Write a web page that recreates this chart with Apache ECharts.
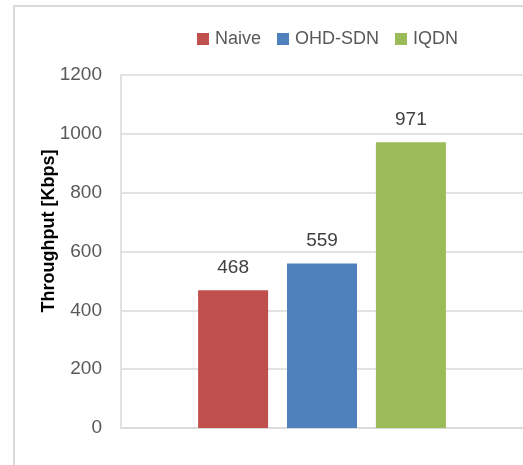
<!DOCTYPE html>
<html>
<head>
<meta charset="utf-8">
<script src="https://cdn.jsdelivr.net/npm/echarts@6/dist/echarts.min.js"></script>
<style>
  html, body { margin: 0; padding: 0; background: #fff; }
  #chart { width: 523px; height: 465px; }
</style>
</head>
<body>
<div id="chart"></div>
<script>
// Throughput of each scheme (Kbps)
var categories = [''];
var seriesNames = ['Naive', 'OHD-SDN', 'IQDN'];
var naive = [468];
var ohdSdn = [559];
var iqdn = [971];
var seriesColors = ['#C0504D', '#4F81BD', '#9BBB59'];
var yTicks = [0, 200, 400, 600, 800, 1000, 1200];

var values = [naive, ohdSdn, iqdn];
var font = '"Liberation Sans", Arial, sans-serif';

var chart = echarts.init(document.getElementById('chart'), null, { renderer: 'canvas' });

var series = seriesNames.map(function (name, i) {
  return {
    name: name,
    type: 'bar',
    data: values[i],
    barWidth: 70,
    barGap: '27%',
    itemStyle: { color: seriesColors[i] },
    label: {
      show: true,
      position: 'top',
      distance: 13,
      color: '#404040',
      fontFamily: font,
      fontSize: 19
    }
  };
});

chart.setOption({
  animation: false,
  backgroundColor: '#fff',
  graphic: [
    {
      type: 'rect',
      shape: { x: 14, y: 6, width: 700, height: 700 },
      style: { fill: 'none', stroke: '#D9D9D9', lineWidth: 2 },
      silent: true
    },
    {
      type: 'text',
      x: 49.5,
      y: 231,
      rotation: Math.PI / 2,
      style: {
        text: 'Throughput [Kbps]',
        fontFamily: font,
        fontSize: 18,
        fontWeight: 'bold',
        fill: '#000',
        align: 'center',
        verticalAlign: 'middle'
      }
    }
  ],
  legend: {
    data: seriesNames,
    left: 197,
    top: 30,
    padding: 0,
    itemWidth: 12,
    itemHeight: 12,
    itemGap: 16,
    icon: 'rect',
    textStyle: { color: '#595959', fontFamily: font, fontSize: 18, padding: [0, 0, 0, 1] }
  },
  grid: { left: 121, top: 75, width: 404, bottom: 37, containLabel: false },
  xAxis: {
    type: 'category',
    data: categories,
    axisLine: { show: true, lineStyle: { color: '#D9D9D9', width: 1.5 } },
    axisTick: { show: false },
    axisLabel: { show: false }
  },
  yAxis: {
    type: 'value',
    min: yTicks[0],
    max: yTicks[yTicks.length - 1],
    interval: yTicks[1] - yTicks[0],
    axisLine: { show: true, lineStyle: { color: '#D9D9D9', width: 1.5 } },
    axisTick: { show: false },
    axisLabel: {
      color: '#595959', fontFamily: font, fontSize: 19, margin: 19,
      formatter: function (v) { return String(v); }
    },
    splitLine: { show: true, lineStyle: { color: '#D9D9D9', width: 1.5 } }
  },
  series: series
});
</script>
</body>
</html>
